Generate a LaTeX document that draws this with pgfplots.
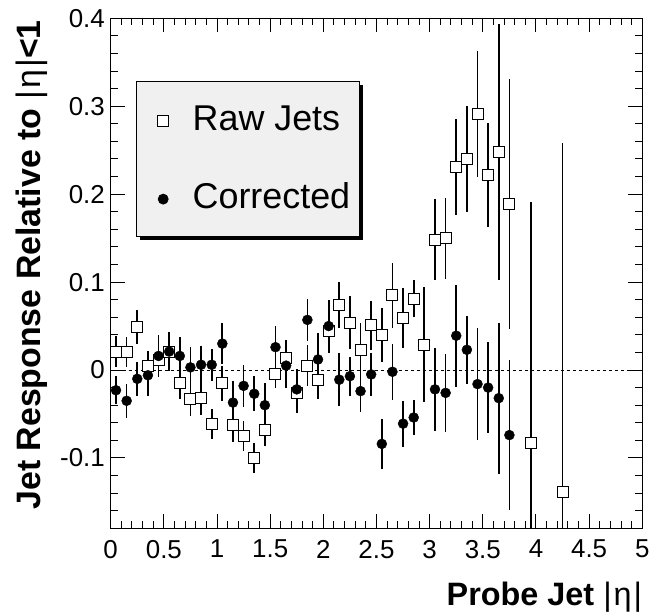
\documentclass[border=0pt]{standalone}
\usepackage{fontspec}
\setmainfont{Liberation Sans}
\usepackage{pgfplots}
\pgfplotsset{compat=1.18}
\usepackage{pgfplotstable}
\usetikzlibrary{shadows}
\definecolor{legendfill}{RGB}{240,240,240}

% raw jets: eta, response, error
\pgfplotstableread{
x y ey
0.05 0.021 0.018
0.15 0.021 0.017
0.25 0.049 0.019
0.35 0.005 0.017
0.45 0.011 0.017
0.55 0.021 0.015
0.65 -0.015 0.018
0.75 -0.033 0.019
0.85 -0.032 0.019
0.95 -0.061 0.017
1.05 -0.015 0.020
1.15 -0.063 0.019
1.25 -0.075 0.017
1.35 -0.100 0.017
1.45 -0.068 0.018
1.55 -0.004 0.017
1.65 0.014 0.020
1.75 -0.026 0.023
1.85 0.005 0.023
1.95 -0.011 0.022
2.05 0.044 0.025
2.15 0.074 0.026
2.25 0.054 0.030
2.35 0.023 0.030
2.45 0.051 0.028
2.55 0.040 0.031
2.65 0.085 0.037
2.75 0.059 0.034
2.85 0.081 0.021
2.95 0.029 0.065
3.05 0.148 0.046
3.15 0.150 0.046
3.25 0.231 0.055
3.35 0.240 0.060
3.45 0.291 0.072
3.55 0.222 0.059
3.65 0.248 0.146
3.75 0.189 0.142
3.95 -0.083 0.274
4.25 -0.139 0.397
}\rawjets

% corrected jets
\pgfplotstableread{
x y ey
0.05 -0.023 0.016
0.15 -0.035 0.019
0.25 -0.010 0.019
0.35 -0.006 0.024
0.45 0.016 0.024
0.55 0.021 0.022
0.65 0.016 0.021
0.75 0.003 0.023
0.85 0.006 0.021
0.95 0.006 0.018
1.05 0.030 0.023
1.15 -0.037 0.024
1.25 -0.018 0.024
1.35 -0.027 0.020
1.45 -0.040 0.025
1.55 0.026 0.024
1.65 0.005 0.025
1.75 -0.022 0.023
1.85 0.057 0.024
1.95 0.012 0.030
2.05 0.050 0.030
2.15 -0.011 0.030
2.25 -0.007 0.022
2.35 -0.024 0.024
2.45 -0.005 0.024
2.55 -0.084 0.028
2.65 -0.002 0.032
2.75 -0.061 0.026
2.85 -0.054 0.020
3.05 -0.022 0.047
3.15 -0.026 0.044
3.25 0.039 0.058
3.35 0.023 0.039
3.45 -0.016 0.064
3.55 -0.020 0.052
3.65 -0.032 0.086
3.75 -0.074 0.085
}\corrjets

\begin{document}
\begin{tikzpicture}
\begin{axis}[
    scale only axis,
    width=531.6bp, height=510bp,
    at={(0,0)}, anchor=south west,
    xmin=0, xmax=5, ymin=-0.18, ymax=0.4,
    axis line style={line width=1.5bp},
    every tick/.style={black, line width=1bp},
    major tick length=14bp, minor tick length=7bp,
    tick align=inside,
    xtick pos=both, ytick pos=both,
    xticklabel pos=bottom, yticklabel pos=left,
    xtick={0,0.5,1,1.5,2,2.5,3,3.5,4,4.5,5},
    xticklabels={0,0.5,1,1.5,2,2.5,3,3.5,4,4.5,5},
    ytick={-0.1,0,0.1,0.2,0.3,0.4},
    yticklabels={-0.1,0,0.1,0.2,0.3,0.4},
    minor xtick={0,0.1,...,5},
    minor ytick={-0.18,-0.16,...,0.4},
    ticklabel style={font=\fontsize{26}{31}\selectfont, inner sep=0pt},
    xticklabel style={anchor=north, yshift=-11.5bp},
    yticklabel style={anchor=east, xshift=-5.7bp},
    xlabel={\textbf{Probe Jet} |\kern2bp η\kern2bp|},
    ylabel={\textbf{Jet Response Relative to} |\kern2bp η\kern2bp|\textbf{<1}},
    label style={inner sep=0pt},
    xlabel style={font=\fontsize{32.5}{38}\selectfont,
      at={(axis description cs:1,-0.1504)}, anchor=base east},
    ylabel style={font=\fontsize{34}{40}\selectfont,
      at={(axis description cs:-0.1321,0.9967)}, anchor=base east, rotate=0},
    legend cell align=left,
    legend image code/.code={\path (0bp,0bp); \draw[#1] plot coordinates {(17.4bp,-1.5bp)};},
    legend style={
      at={(axis description cs:0.0476,0.8776)}, anchor=north west,
      draw=black, line width=0.8bp, fill=legendfill,
      drop shadow={shadow xshift=4bp, shadow yshift=-4bp, fill=black, opacity=1},
      font=\fontsize{36}{43}\selectfont,
      inner xsep=9bp, inner ysep=23bp,
      row sep=47bp, column sep=24bp,
      nodes={inner sep=0pt, text height=26bp, text depth=5bp},
    },
  ]

  % zero reference line
  \addplot[black, dash pattern=on 3bp off 3bp, line width=0.8bp, forget plot]
    coordinates {(0,0) (5,0)};

  \addplot[only marks, mark=square*, mark size=5.5bp,
    mark options={fill=white, draw=black, line width=1bp},
    error bars/.cd, y dir=both, y explicit,
    error bar style={line width=1.7bp, black}, error mark=none]
    table[x=x, y=y, y error=ey] {\rawjets};
  \addlegendentry{Raw Jets}

  \addplot[only marks, mark=*, mark size=5bp,
    mark options={fill=black, draw=black},
    error bars/.cd, y dir=both, y explicit,
    error bar style={line width=1.7bp, black}, error mark=none]
    table[x=x, y=y, y error=ey] {\corrjets};
  \addlegendentry{Corrected}

\end{axis}
\pgfresetboundingbox
\path (-110.7bp,-86.7bp) rectangle (539.3bp,528.3bp);
\end{tikzpicture}
\end{document}
